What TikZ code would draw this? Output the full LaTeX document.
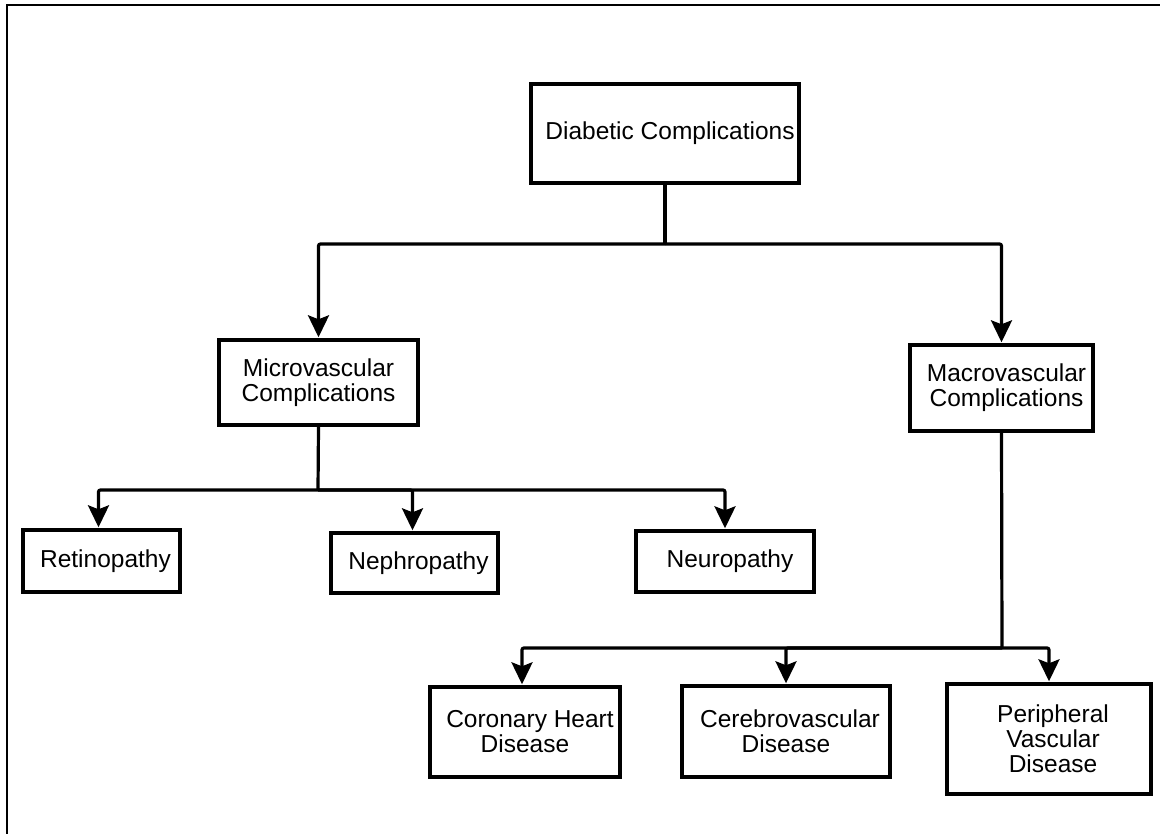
\documentclass[tikz,border=0pt]{standalone}
\usepackage{fontspec}
\setmainfont{Liberation Sans}
\usetikzlibrary{arrows.meta}
\begin{document}
\begin{tikzpicture}[x=1pt,y=-1pt,
  box/.style={draw=black,line width=3.4pt,inner sep=0pt,align=center,
    font=\fontsize{24.5}{25}\selectfont},
  conn/.style={line width=3.2pt,rounded corners=2pt},
  arr/.style={conn,-{Stealth[length=22pt,width=21pt,inset=4pt]},shorten >=1pt}]
\useasboundingbox (0,0) rectangle (1160,834);
\fill[white] (0,0) rectangle (1160,834);
\draw[line width=2.2pt] (7,834) -- (7,5) -- (1160,5);
% boxes
\node[box,minimum width=268pt,minimum height=99pt] (diab) at (665,133.5) {\hspace*{10pt}Diabetic Complications};
\node[box,minimum width=199pt,minimum height=85pt] (micro) at (318.5,382.5) {Microvascular\\Complications};
\node[box,minimum width=183pt,minimum height=86pt] (macro) at (1001.5,388) {\hspace*{10pt}Macrovascular\\\hspace*{10pt}Complications};
\node[box,minimum width=157pt,minimum height=62pt] (retino) at (101.5,561) {\hspace*{8pt}Retinopathy};
\node[box,minimum width=167pt,minimum height=60pt] (nephro) at (414.5,563) {\hspace*{8pt}Nephropathy};
\node[box,minimum width=178pt,minimum height=61pt] (neuro) at (725,561.5) {\hspace*{10pt}Neuropathy};
\node[box,minimum width=190pt,minimum height=90pt] (chd) at (525,732) {\hspace*{10pt}Coronary Heart\\Disease};
\node[box,minimum width=208pt,minimum height=91pt] (cere) at (786,731.5) {\hspace*{8pt}Cerebrovascular\\Disease};
\node[box,minimum width=204pt,minimum height=110pt] (peri) at (1049,739) {\hspace*{8pt}Peripheral\\\hspace*{8pt}Vascular\\\hspace*{8pt}Disease};
% junctions
\coordinate (j1) at (665,244);
\coordinate (j2) at (318,490);
\coordinate (j3) at (1002,648);
% connectors
\draw[conn] (diab.south) -- (j1);
\draw[arr] (j1) -| (micro.north);
\draw[arr] (j1) -| (macro.north);
\draw[conn] (micro.south) -- (j2);
\draw[arr] (j2) -| ([xshift=-3pt]retino.north);
\draw[arr] (j2) -| ([xshift=-2pt]nephro.north);
\draw[arr] (j2) -| (neuro.north);
\draw[conn] (macro.south) -- (j3);
\draw[arr] (j3) -| ([xshift=-3pt]chd.north);
\draw[arr] (j3) -| (cere.north);
\draw[arr] (j3) -| (peri.north);
\end{tikzpicture}
\end{document}
